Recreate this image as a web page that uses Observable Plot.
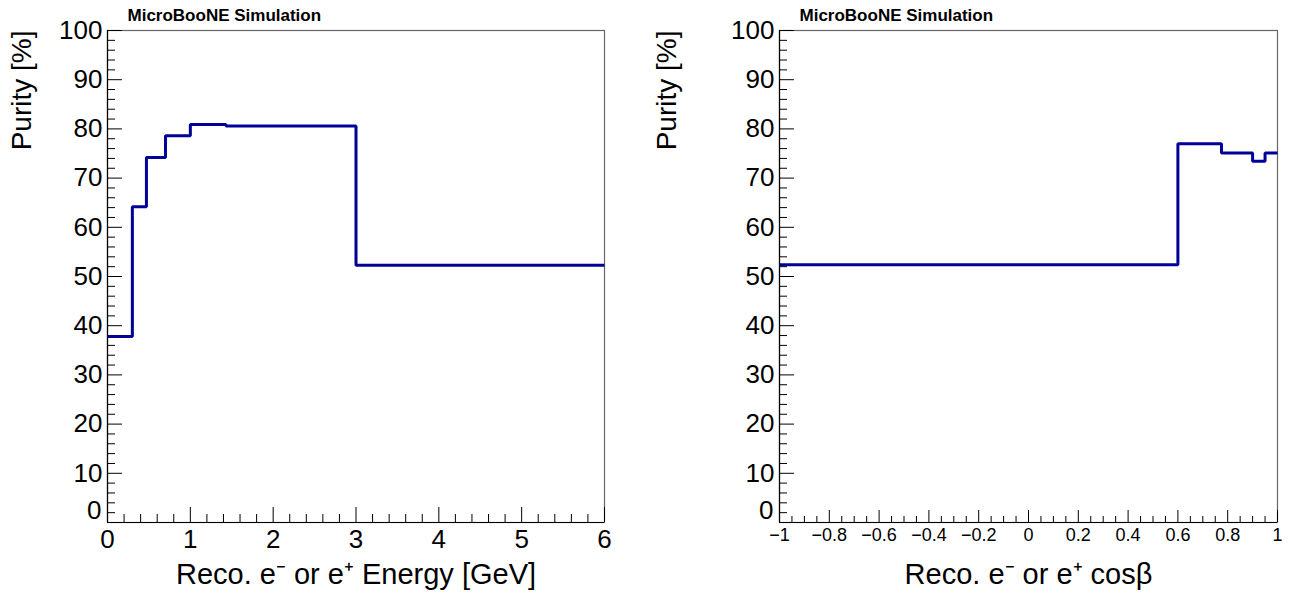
<!DOCTYPE html>
<html>
<head>
<meta charset="utf-8">
<script src="https://cdn.jsdelivr.net/npm/d3@7"></script>
<script src="https://cdn.jsdelivr.net/npm/@observablehq/plot@0.6"></script>
<style>
  html, body { margin: 0; padding: 0; background: #fff; }
  #wrap { display: flex; width: 1289px; height: 593px; overflow: hidden; }
  svg { display: block; }
</style>
</head>
<body>
<div id="wrap"></div>
<script>
// ---- Data ----
const energyEdges = [0, 0.3, 0.47, 0.7, 1.0, 1.43, 3, 6];
const energyPurity = [37.8, 64.2, 74.2, 78.6, 80.9, 80.6, 52.3];

const cosEdges = [-1, 0.6, 0.775, 0.9, 0.95, 1];
const cosPurity = [52.4, 77.0, 75.1, 73.4, 75.1];

const yMajor = [0, 10, 20, 30, 40, 50, 60, 70, 80, 90, 100];
const yLabels = ["0", "10", "20", "30", "40", "50", "60", "70", "80", "90", "100"];
const yMinor = d3.range(0, 101, 2).filter(v => v % 10 !== 0);

const energyMajor = [0, 1, 2, 3, 4, 5, 6];
const energyLabels = ["0", "1", "2", "3", "4", "5", "6"];
const energyMinor = d3.range(0, 31).map(i => i * 0.2).filter((v, i) => i % 5 !== 0);

const cosMajor = [-1, -0.8, -0.6, -0.4, -0.2, 0, 0.2, 0.4, 0.6, 0.8, 1];
const cosLabels = ["\u22121", "\u22120.8", "\u22120.6", "\u22120.4", "\u22120.2", "0", "0.2", "0.4", "0.6", "0.8", "1"];
const cosMinor = d3.range(0, 41).map(i => -1 + i * 0.05).filter((v, i) => i % 4 !== 0);

const yTitle = "Purity [%]";
const energyTitle = "Reco. e\u207B or e\u207A Energy [GeV]";
const cosTitle = "Reco. e\u207B or e\u207A cos\u03B2";
const banner = "MicroBooNE Simulation";

const lineColor = "#000099";
const font = "'Liberation Sans', Arial, Helvetica, sans-serif";

function stepPoints(edges, vals) {
  return edges.map((x, i) => ({x, y: vals[Math.min(i, vals.length - 1)]}));
}
function labelFormat(values, labels) {
  const m = new Map(values.map((v, i) => [v, labels[i]]));
  return d => m.get(d) ?? "";
}

function panel({width, marginLeft, marginRight, edges, vals, xDomain, xMajor, xLabels, xMinor, xTitle, xFont, xPad, xMajorLen, xMinorLen}) {
  const height = 593, marginTop = 30, marginBottom = 71;
  const fw = width - marginLeft - marginRight;
  const fh = height - marginTop - marginBottom;
  const yFmt = labelFormat(yMajor, yLabels);
  return Plot.plot({
    width, height, marginLeft, marginRight, marginTop, marginBottom,
    style: {fontFamily: font, background: "#fff", color: "#000", overflow: "visible"},
    x: {domain: xDomain, nice: false},
    y: {domain: [0, 100], nice: false},
    marks: [
      Plot.frame({stroke: "#666", strokeWidth: 1.2}),
      // y ticks (inside)
      Plot.tickY(yMajor, {y: d => d, insetRight: fw - 15, stroke: "#000"}),
      Plot.tickY(yMinor, {y: d => d, insetRight: fw - 8, stroke: "#000"}),
      // x ticks (inside)
      Plot.tickX(xMajor, {x: d => d, insetTop: fh - xMajorLen, stroke: "#000"}),
      Plot.tickX(xMinor, {x: d => d, insetTop: fh - xMinorLen, stroke: "#000"}),
      // axis lines
      Plot.ruleX([xDomain[0]], {stroke: "#000", strokeWidth: 1.2}),
      Plot.ruleY([0], {stroke: "#000", strokeWidth: 1.2}),
      // tick labels
      Plot.axisY({ticks: yMajor.filter(v => v !== 0), tickSize: 0, tickPadding: 5, fontSize: 26, label: null, tickFormat: yFmt}),
      Plot.axisY({ticks: [0], tickSize: 0, tickPadding: 6, fontSize: 26, label: null, tickFormat: yFmt, dy: -12}),
      Plot.axisX({ticks: xMajor, tickSize: 0, tickPadding: xPad, fontSize: xFont, label: null, tickFormat: labelFormat(xMajor, xLabels)}),
      // histogram step line
      Plot.line(stepPoints(edges, vals), {x: "x", y: "y", curve: "step-after", stroke: lineColor, strokeWidth: 3, strokeLinejoin: "miter", strokeLinecap: "butt"}),
      // titles
      Plot.text([yTitle], {text: d => d, frameAnchor: "top-left", rotate: -90, textAnchor: "end", lineAnchor: "bottom", dx: -(marginLeft - 30), dy: 0, fontSize: 28}),
      Plot.text([xTitle], {text: d => d, frameAnchor: "bottom", lineAnchor: "bottom", dy: 61, fontSize: 29}),
      Plot.text([banner], {text: d => d, frameAnchor: "top-left", textAnchor: "start", lineAnchor: "bottom", dx: 20, dy: -9.5, fontSize: 17, fontWeight: "bold"})
    ]
  });
}

const left = panel({
  width: 645, marginLeft: 107, marginRight: 41,
  edges: energyEdges, vals: energyPurity, xDomain: [0, 6],
  xMajor: energyMajor, xLabels: energyLabels, xMinor: energyMinor, xTitle: energyTitle, xFont: 26, xPad: 7,
  xMajorLen: 15, xMinorLen: 8
});
const right = panel({
  width: 644, marginLeft: 134, marginRight: 12,
  edges: cosEdges, vals: cosPurity, xDomain: [-1, 1],
  xMajor: cosMajor, xLabels: cosLabels, xMinor: cosMinor, xTitle: cosTitle, xFont: 18, xPad: 6,
  xMajorLen: 12, xMinorLen: 6
});
document.getElementById("wrap").append(left, right);
</script>
</body>
</html>
